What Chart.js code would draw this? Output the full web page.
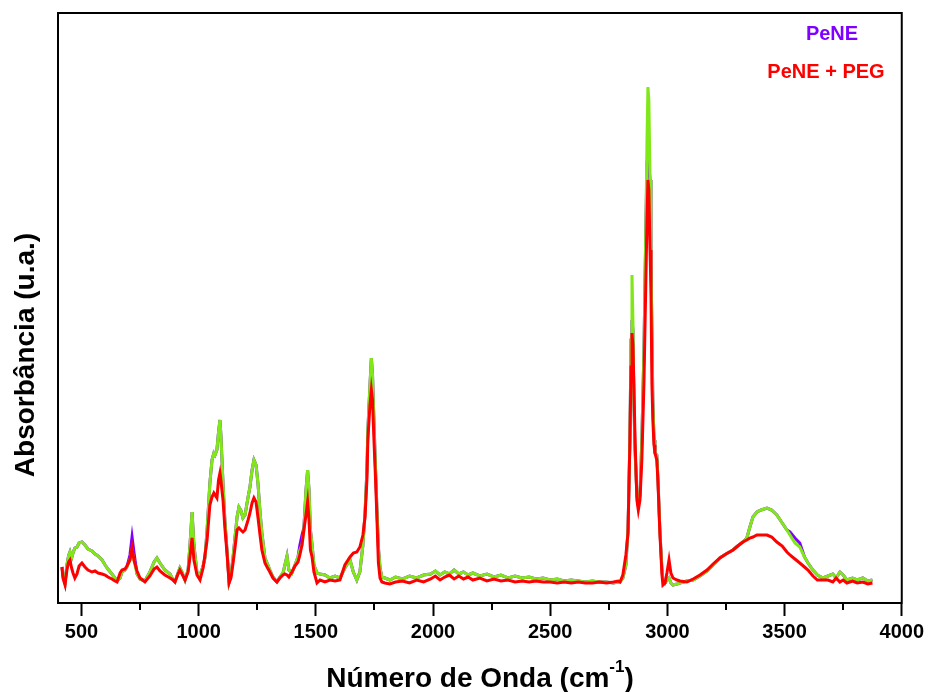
<!DOCTYPE html>
<html>
<head>
<meta charset="utf-8">
<script src="https://cdn.jsdelivr.net/npm/chart.js@4.4.1/dist/chart.umd.min.js"></script>
<style>
html,body{margin:0;padding:0;background:#ffffff;}
#wrap{width:928px;height:692px;}
</style>
</head>
<body>
<div id="wrap"><canvas id="c" width="928" height="692"></canvas></div>
<script>
// Wavenumber (cm-1) grid
const wavenumber = [417,421,430,438,445,451,458,464,472,481,490,502,515,528,545,558,571,588,601,613,630,643,652,665,673,686,694,707,716,724,737,750,771,792,810,822,835,856,878,891,899,912,920,929,942,955,963,972,980,993,1006,1019,1027,1036,1048,1057,1065,1070,1078,1085,1091,1095,1104,1112,1121,1130,1138,1147,1155,1164,1172,1180,1189,1198,1211,1219,1228,1236,1245,1253,1262,1270,1283,1292,1304,1317,1334,1347,1360,1368,1377,1385,1398,1411,1424,1432,1441,1449,1458,1465,1471,1477,1484,1492,1505,1518,1539,1560,1582,1603,1624,1646,1660,1675,1688,1701,1710,1718,1722,1731,1737,1742,1748,1755,1761,1767,1774,1782,1795,1816,1840,1870,1900,1930,1960,1990,2010,2030,2050,2070,2090,2110,2130,2150,2170,2200,2230,2260,2290,2320,2350,2380,2410,2440,2470,2500,2530,2560,2590,2620,2650,2680,2710,2740,2770,2790,2798,2810,2823,2832,2840,2845,2849,2853,2857,2862,2870,2876,2883,2891,2900,2908,2913,2917,2921,2926,2930,2934,2938,2943,2947,2955,2960,2968,2977,2981,2990,2998,3007,3015,3024,3041,3054,3083,3110,3139,3169,3195,3224,3250,3280,3300,3322,3339,3352,3365,3382,3400,3425,3445,3467,3490,3510,3523,3544,3565,3585,3600,3621,3640,3664,3685,3706,3720,3736,3750,3766,3790,3810,3834,3855,3875];

// Green trace (unlabelled)
const greenTrace = [36,28,20,38,47,51,45,50,55,56,60,61,58,54,52,49,47,43,38,34,29,25,22,25,31,33,36,43,53,43,29,24,22,31,41,45,40,33,29,23,21,30,35,31,23,33,58,91,58,30,28,37,45,73,120,143,150,148,153,171,183,168,120,83,53,21,28,46,65,86,96,93,85,88,106,116,133,143,138,120,91,70,45,40,33,26,21,26,30,38,47,33,30,38,46,53,58,73,113,133,113,73,58,38,30,29,28,25,27,25,35,43,31,23,31,58,90,133,173,218,245,228,183,133,93,56,35,26,25,23,26,24,27,25,28,29,32,28,31,29,33,29,31,28,30,27,29,26,28,25,27,25,26,24,25,23,24,22,23,22,21,22,21,21,20,21,21,25,38,73,163,263,328,283,203,153,108,98,108,163,253,373,463,516,503,423,343,273,203,163,150,148,123,73,33,23,20,23,25,20,18,19,20,22,23,27,32,38,45,49,53,57,61,65,76,86,91,93,95,93,88,80,73,68,60,56,46,40,33,28,25,27,29,25,31,28,23,25,23,25,22,23];

// PeNE (purple)
const pene = [36,28,20,38,47,51,45,50,55,56,60,61,58,54,52,49,47,43,38,34,29,25,22,25,31,33,36,48,66,51,29,24,22,31,41,45,40,33,29,23,21,30,35,31,23,33,58,91,58,30,28,37,45,73,120,143,150,148,153,171,183,168,120,83,53,21,28,46,65,86,96,93,85,88,106,116,133,143,138,120,91,70,45,40,33,26,21,26,30,38,47,33,30,38,46,58,68,75,113,133,113,73,58,38,30,29,28,25,27,25,35,43,31,23,31,58,90,133,173,218,245,228,183,133,93,56,35,26,25,23,26,24,27,25,28,29,32,28,31,29,33,29,31,28,30,27,29,26,28,25,27,25,26,24,25,23,24,22,23,22,21,22,21,21,20,21,21,25,38,73,163,263,283,273,203,153,108,98,108,163,253,373,440,448,438,423,343,273,203,163,150,148,123,73,33,23,20,23,25,20,18,19,20,22,23,27,32,38,45,49,53,57,61,65,76,86,91,93,95,93,88,80,73,71,65,60,46,40,33,28,25,27,29,25,31,28,23,25,23,25,22,23];

// PeNE + PEG (red)
const penePeg = [36,25,18,33,41,43,35,30,25,29,37,40,36,33,31,32,30,29,28,26,24,22,21,30,33,34,37,43,55,43,32,25,21,27,34,36,32,28,25,23,21,29,33,29,23,31,46,65,43,28,23,35,48,63,98,106,110,108,105,123,130,123,103,75,50,20,25,40,55,73,75,73,71,73,83,90,100,105,101,86,68,53,40,36,31,25,21,25,28,29,28,26,31,37,41,48,58,73,88,101,83,53,46,31,20,23,21,23,22,23,38,46,50,51,56,68,86,123,163,198,213,203,163,123,83,40,25,21,20,19,21,22,20,23,21,24,27,23,26,28,24,27,24,26,23,25,22,24,22,23,21,22,21,22,21,21,20,21,20,21,20,20,21,20,21,22,21,28,48,70,160,236,270,258,220,163,103,93,103,143,220,320,383,423,413,353,313,220,183,158,150,143,120,70,28,18,20,30,43,30,25,23,22,21,24,28,33,39,45,49,53,57,61,63,65,66,68,68,68,66,61,57,51,48,44,40,36,33,27,23,23,23,21,25,21,23,20,22,20,21,19,20];

const xTicks = [500,750,1000,1250,1500,1750,2000,2250,2500,2750,3000,3250,3500,3750,4000];
const xTickLabels = ['500','','1000','','1500','','2000','','2500','','3000','','3500','','4000'];
const legendLabels = ['PeNE', 'PeNE + PEG'];
const xTitleMain = 'Número de Onda (cm';
const xTitleSup = '-1';
const xTitleEnd = ')';
const yTitle = 'Absorbância (u.a.)';

const COL_PURPLE = 'rgb(128,0,255)';
const COL_GREEN = 'rgb(128,232,24)';
const COL_RED = 'rgb(255,0,0)';

function pts(arr){ return wavenumber.map((w,i)=>({x:w, y:arr[i]})); }

const decor = {
  id:'decor',
  afterDraw(chart){
    const ctx = chart.ctx, a = chart.chartArea, xs = chart.scales.x;
    ctx.save();
    // frame
    ctx.strokeStyle = '#000'; ctx.lineWidth = 2;
    ctx.strokeRect(a.left, a.top, a.right - a.left, a.bottom - a.top);
    // minor ticks
    xTicks.forEach((v,i)=>{
      if (xTickLabels[i] === '') {
        const px = Math.round(xs.getPixelForValue(v));
        ctx.beginPath(); ctx.moveTo(px, a.bottom); ctx.lineTo(px, a.bottom + 7); ctx.stroke();
      }
    });
    // x title
    ctx.fillStyle = '#000';
    ctx.textBaseline = 'alphabetic';
    const big = 'bold 28px "Liberation Sans", Arial, sans-serif';
    const small = 'bold 17px "Liberation Sans", Arial, sans-serif';
    ctx.font = big;
    const wMain = ctx.measureText(xTitleMain).width;
    ctx.font = small;
    const wSup = ctx.measureText(xTitleSup).width;
    ctx.font = big;
    const wEnd = ctx.measureText(xTitleEnd).width;
    const total = wMain + wSup + wEnd;
    let x0 = 480 - total/2;
    ctx.textAlign = 'left';
    ctx.fillText(xTitleMain, x0, 687);
    ctx.font = small;
    ctx.fillText(xTitleSup, x0 + wMain, 672);
    ctx.font = big;
    ctx.fillText(xTitleEnd, x0 + wMain + wSup, 687);
    // y title
    ctx.save();
    ctx.translate(34, 355);
    ctx.rotate(-Math.PI/2);
    ctx.textAlign = 'center';
    ctx.fillText(yTitle, 0, 0);
    ctx.restore();
    // legend
    ctx.font = 'bold 20px "Liberation Sans", Arial, sans-serif';
    ctx.textAlign = 'center';
    ctx.fillStyle = COL_PURPLE;
    ctx.fillText(legendLabels[0], 832, 40);
    ctx.fillStyle = COL_RED;
    ctx.fillText(legendLabels[1], 826, 78);
    ctx.restore();
  }
};

new Chart(document.getElementById('c'), {
  type:'line',
  data:{
    datasets:[
      {label:legendLabels[1], data:pts(penePeg), borderColor:COL_RED, borderWidth:3, pointRadius:0, tension:0, order:1},
      {label:'', data:pts(greenTrace), borderColor:COL_GREEN, borderWidth:3, pointRadius:0, tension:0, order:2},
      {label:legendLabels[0], data:pts(pene), borderColor:COL_PURPLE, borderWidth:3, pointRadius:0, tension:0, order:3}
    ]
  },
  options:{
    responsive:false,
    animation:false,
    events:[],
    layout:{padding:{left:58, right:26, top:13, bottom:0}},
    plugins:{legend:{display:false}, tooltip:{enabled:false}},
    scales:{
      x:{
        type:'linear', min:400, max:4000,
        afterBuildTicks:(s)=>{ s.ticks = xTicks.map(v=>({value:v})); },
        afterFit:(s)=>{ s.height = 89; },
        ticks:{autoSkip:false, maxRotation:0, minRotation:0, padding:4, color:'#000',
          font:{family:'"Liberation Sans", Arial, sans-serif', weight:'bold', size:20},
          callback:(v,i)=>xTickLabels[i]},
        grid:{drawOnChartArea:false, tickLength:13, tickWidth:2,
          tickColor:(c)=> (c.tick && xTickLabels[xTicks.indexOf(c.tick.value)] !== '') ? '#000' : 'rgba(0,0,0,0)'},
        border:{display:true, color:'#000', width:2}
      },
      y:{display:false, min:0, max:590}
    }
  },
  plugins:[decor]
});
</script>
</body>
</html>
